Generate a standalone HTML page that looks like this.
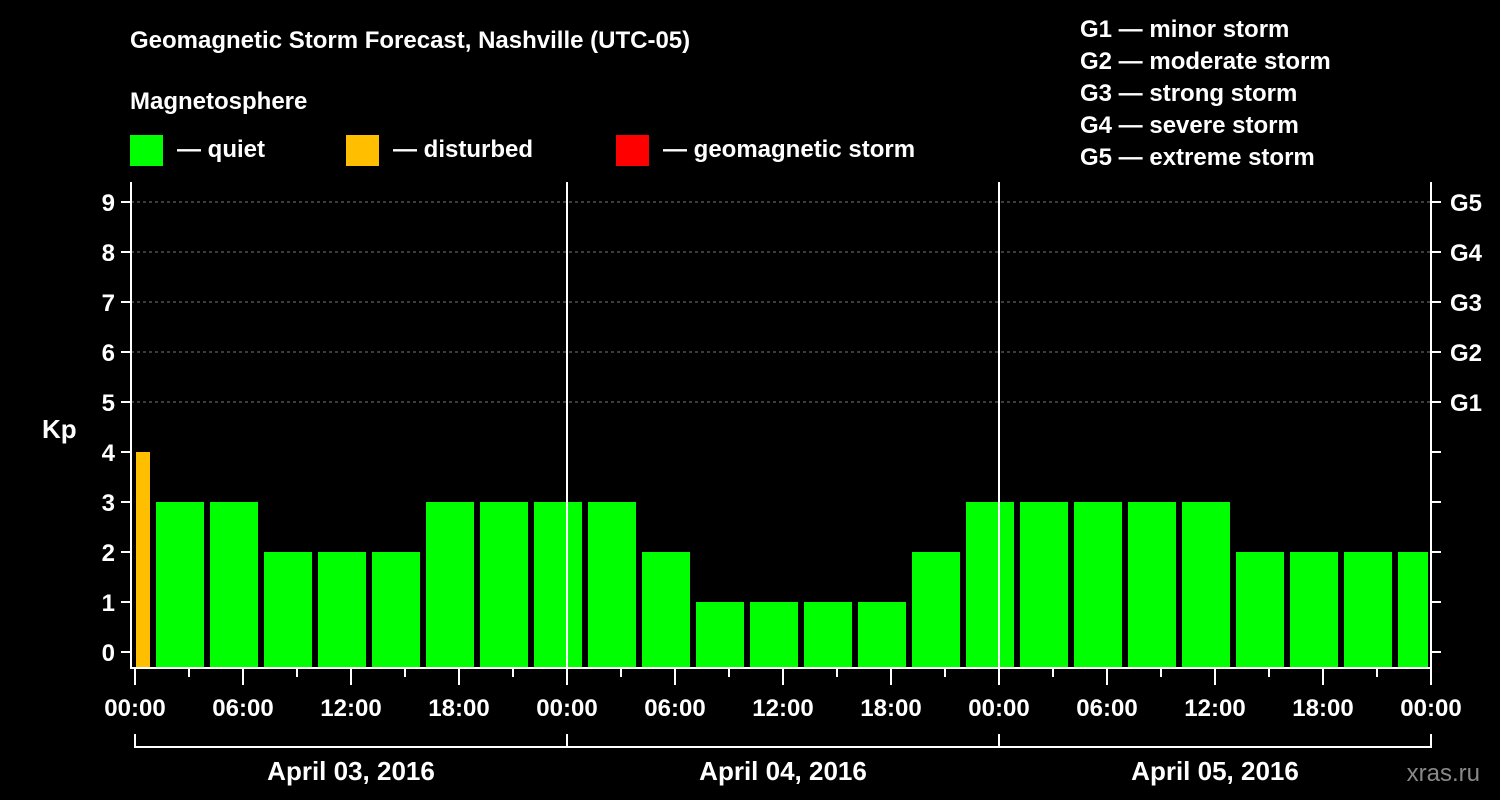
<!DOCTYPE html>
<html><head><meta charset="utf-8"><style>
body{margin:0;background:#000;}
svg{display:block;font-family:"Liberation Sans",sans-serif;font-weight:bold;}
</style></head><body>
<svg id="c" width="1500" height="800">
<text x="130" y="48" fill="#fff" font-size="24">Geomagnetic Storm Forecast, Nashville (UTC-05)</text>
<text x="130" y="109" fill="#fff" font-size="24">Magnetosphere</text>
<g><rect x="130" y="135" width="33" height="31" fill="#00ff00"/><text x="177" y="157" fill="#fff" font-size="24">— quiet</text></g>
<g><rect x="346" y="135" width="33" height="31" fill="#ffbf00"/><text x="393" y="157" fill="#fff" font-size="24">— disturbed</text></g>
<g><rect x="616" y="135" width="33" height="31" fill="#ff0000"/><text x="663" y="157" fill="#fff" font-size="24">— geomagnetic storm</text></g>
<g fill="#fff" font-size="24">
<text x="1080" y="37">G1 — minor storm</text><text x="1080" y="69">G2 — moderate storm</text><text x="1080" y="101">G3 — strong storm</text><text x="1080" y="133">G4 — severe storm</text><text x="1080" y="165">G5 — extreme storm</text></g>
<text x="42" y="438" fill="#fff" font-size="26">Kp</text>
<text x="1480" y="781" fill="#888" font-size="24" font-weight="normal" text-anchor="end">xras.ru</text>
<g id="grid"></g><g id="bars"></g><g id="axes"></g>
</svg>
<script>
const values=[4,3,3,2,2,2,3,3,3,3,2,1,1,1,1,2,3,3,3,3,3,2,2,2,2,2];
const startHours=[0,1,4,7,10,13,16,19,22,25,28,31,34,37,40,43,46,49,52,55,58,61,64,67,70,71];
const endHours=[1,4,7,10,13,16,19,22,25,28,31,34,37,40,43,46,49,52,55,58,61,64,67,70,72,72];
const xLabels=["00:00","06:00","12:00","18:00","00:00","06:00","12:00","18:00","00:00","06:00","12:00","18:00","00:00"];
const dayLabels=["April 03, 2016","April 04, 2016","April 05, 2016"];
const gLabels=["G1","G2","G3","G4","G5"];
const yTicks=[0,1,2,3,4,5,6,7,8,9];
const NS="http://www.w3.org/2000/svg";
const X0=135,PX_H=18,Y0=652,PX_K=50,TOP=182,BOT=668,RIGHT=1431;
const x=h=>X0+h*PX_H, y=v=>Y0-v*PX_K;
function mk(tag,attrs,parent,txt){const e=document.createElementNS(NS,tag);for(const k in attrs)e.setAttribute(k,attrs[k]);if(txt!==undefined)e.textContent=txt;document.getElementById(parent).appendChild(e);return e;}
// grid
for(let v=5;v<=9;v++){const l=mk('line',{x1:131,x2:RIGHT,y1:y(v),y2:y(v),stroke:'#777','stroke-dasharray':'3,3'},'grid');

}
// bars
values.forEach((v,i)=>{const h0=startHours[i],h1=endHours[i];
let xa=x(h0)+(h0===0?1:3),xb=Math.min(x(h1)-3,RIGHT-3);
if(h1===72&&h0===71)xb=RIGHT-3;
const c=v>=5?'#ff0000':(v>=4?'#ffbf00':'#00ff00');
const r=mk('rect',{x:xa,y:y(v),width:xb-xa,height:BOT-y(v),fill:c},'bars');

});
// axes
const fr=mk('path',{d:`M131 ${TOP} V${BOT} H${RIGHT} V${TOP}`,stroke:'#fff','stroke-width':2,fill:'none'},'axes');


for(const d of [1,2]){const l=mk('line',{x1:x(d*24),x2:x(d*24),y1:TOP,y2:BOT,stroke:'#fff','stroke-width':2},'axes');

}
yTicks.forEach(v=>{mk('line',{x1:121,x2:131,y1:y(v),y2:y(v),stroke:'#fff','stroke-width':2},'axes');
mk('line',{x1:RIGHT,x2:RIGHT+10,y1:y(v),y2:y(v),stroke:'#fff','stroke-width':2},'axes');
const t=mk('text',{x:115,y:y(v)+9,fill:'#fff','font-size':24,'text-anchor':'end'},'axes',String(v));

});
gLabels.forEach((g,i)=>{const t=mk('text',{x:1450,y:y(5+i)+9,fill:'#fff','font-size':24},'axes',g);

});
for(let h=0;h<=72;h+=3){const major=h%6===0;mk('line',{x1:x(h),x2:x(h),y1:BOT,y2:major?685:677,stroke:'#fff','stroke-width':2},'axes');}
xLabels.forEach((s,i)=>{const t=mk('text',{x:x(i*6),y:716,fill:'#fff','font-size':24,'text-anchor':'middle'},'axes',s);

});
mk('line',{x1:X0,x2:x(72),y1:747,y2:747,stroke:'#fff','stroke-width':2},'axes');
for(let d=0;d<=3;d++)mk('line',{x1:x(d*24),x2:x(d*24),y1:734,y2:748,stroke:'#fff','stroke-width':2},'axes');
dayLabels.forEach((s,i)=>{const t=mk('text',{x:x(i*24+12),y:780,fill:'#fff','font-size':26,'text-anchor':'middle'},'axes',s);

});
</script>
</body></html>
